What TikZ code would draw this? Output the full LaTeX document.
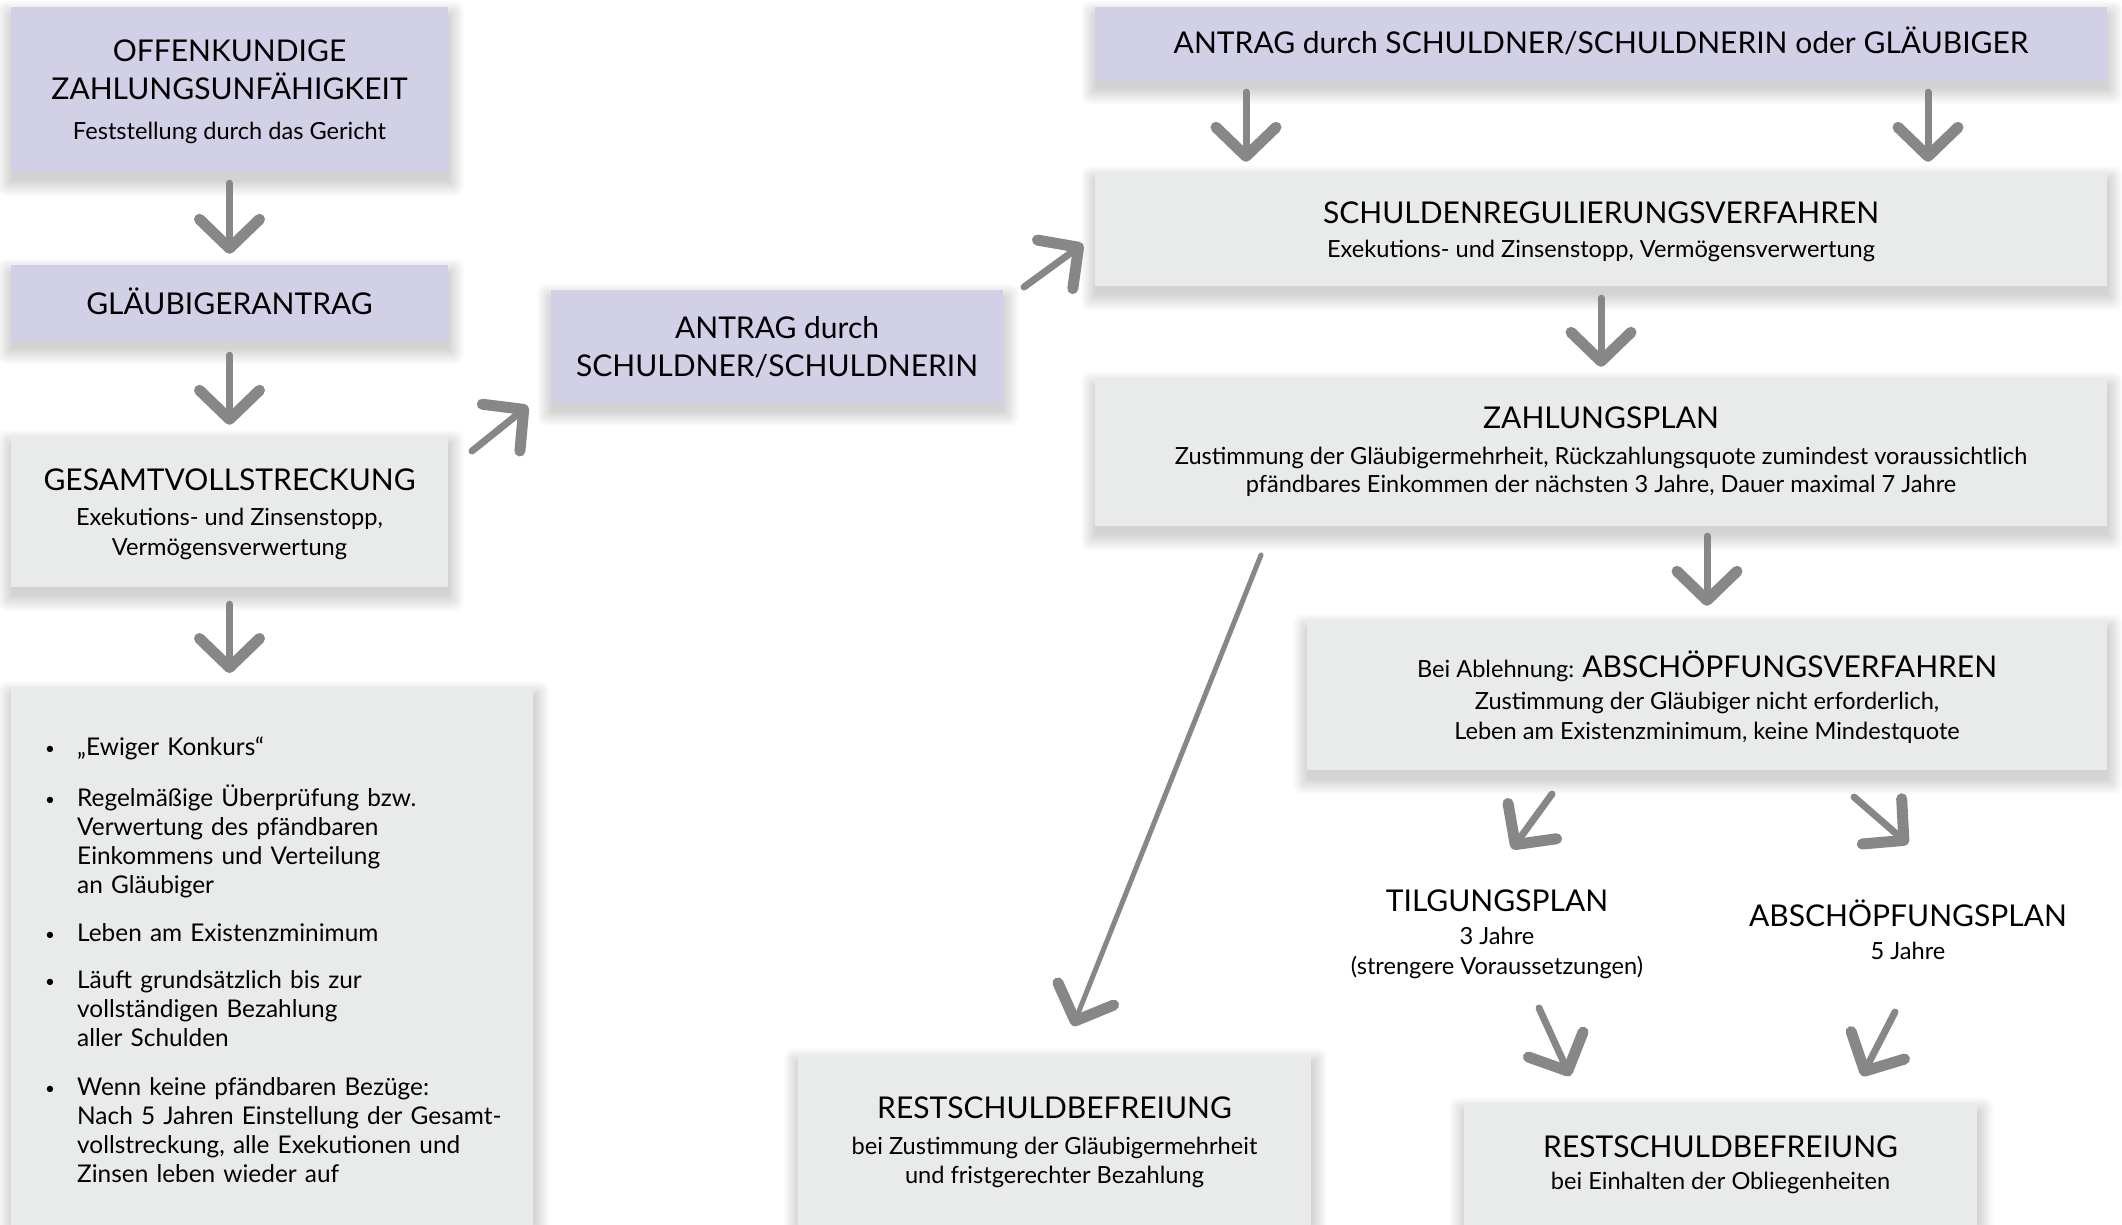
\documentclass[tikz,border=0pt]{standalone}
\usepackage{fontspec}
\setmainfont{Lato}
\usetikzlibrary{arrows.meta,calc}
\pgfdeclarelayer{bg}
\pgfsetlayers{bg,main}
\definecolor{lila}{HTML}{D2D0E6}
\definecolor{grau}{HTML}{E9EAEA}
\definecolor{pfeil}{HTML}{878787}
\newcommand{\hdf}{\fontsize{30}{38}\selectfont}
\newcommand{\sbf}{\fontsize{23.6}{29}\selectfont}
\newcommand{\toprl}[1]{\rule{0pt}{#1pt}}
\newcommand{\botrl}{\rule[-10pt]{0pt}{10pt}}
\newcommand{\bul}{\leavevmode\llap{\makebox[32pt][l]{\raisebox{1pt}{\fontsize{17}{17}\selectfont\textbullet}}}}
\begin{document}
\begin{tikzpicture}[x=1pt,y=-1pt,
  box/.style={inner sep=0pt, align=center, text=black, font=\sbf},
  lbox/.style={box, fill=lila},
  gbox/.style={box, fill=grau},
  shadowlayer/.style={fill=black, fill opacity=0.017},
  brush/.style={draw=pfeil, line width=7pt, line cap=round,
    -{Straight Barb[length=29pt,width=60pt,line width=11pt,round]}},
  plain/.style={align=center, inner sep=0pt, font=\sbf, anchor=north}]
\useasboundingbox (0,0) rectangle (2122,1224);

% left column
\node[lbox, minimum width=437pt, minimum height=165pt] (b1) at (229.5,89.5)
  {\toprl{31}\hdf OFFENKUNDIGE\\[9pt] \hdf ZAHLUNGSUNFÄHIGKEIT\\[11pt] \sbf Feststellung durch das Gericht\botrl};
\node[lbox, minimum width=437pt, minimum height=75pt] (b2) at (229.5,302.5)
  {\toprl{33}\hdf GLÄUBIGERANTRAG\botrl};
\node[gbox, minimum width=437pt, minimum height=151pt] (b3) at (229.5,511.5)
  {\toprl{32}\hdf GESAMTVOLLSTRECKUNG\\[6pt] \sbf Exekutions- und Zinsenstopp,\\[1pt] \sbf Vermögensverwertung\botrl};
\node[gbox, anchor=north west, minimum width=522pt, minimum height=560pt] (b4) at (11,687) {};
\node[inner sep=0pt, anchor=north west, text width=440pt, align=left,
  font=\fontsize{24.4}{29}\selectfont] (t4) at (77,725)
  {\bul\toprl{30}„Ewiger Konkurs“\\[22pt]
   \bul Regelmäßige Überprüfung bzw.\\
   Verwertung des pfändbaren\\
   Einkommens und Verteilung\\
   an Gläubiger\\[19pt]
   \bul Leben am Existenzminimum\\[18pt]
   \bul Läuft grundsätzlich bis zur\\
   vollständigen Bezahlung\\
   aller Schulden\\[20pt]
   \bul Wenn keine pfändbaren Bezüge:\\
   Nach 5 Jahren Einstellung der Gesamt-\\
   vollstreckung, alle Exekutionen und\\
   Zinsen leben wieder auf};

% middle
\node[lbox, minimum width=452pt, minimum height=112pt] (b5) at (777,346)
  {\toprl{32}\hdf ANTRAG durch\\[9pt] \hdf SCHULDNER/SCHULDNERIN\botrl};

% right column
\node[lbox, minimum width=1012pt, minimum height=73pt] (b6) at (1601,43.5)
  {\toprl{29}\hdf ANTRAG durch SCHULDNER/SCHULDNERIN oder GLÄUBIGER\botrl};
\node[gbox, minimum width=1012pt, minimum height=114pt] (b7) at (1601,229)
  {\toprl{32}\hdf SCHULDENREGULIERUNGSVERFAHREN\\[5pt] \sbf Exekutions- und Zinsenstopp, Vermögensverwertung\botrl};
\node[gbox, minimum width=1012pt, minimum height=148pt] (b8) at (1601,452)
  {\toprl{26}\hdf ZAHLUNGSPLAN\\[7pt] \sbf Zustimmung der Gläubigermehrheit, Rückzahlungsquote zumindest voraussichtlich\\[-1pt] \sbf pfändbares Einkommen der nächsten 3 Jahre, Dauer maximal 7 Jahre\botrl};
\node[gbox, minimum width=800pt, minimum height=150pt] (b9) at (1707,695)
  {\toprl{36}{\sbf Bei Ablehnung: }{\hdf ABSCHÖPFUNGSVERFAHREN}\\[3pt] \sbf Zustimmung der Gläubiger nicht erforderlich,\\[1pt] \sbf Leben am Existenzminimum, keine Mindestquote\botrl};
\node[plain] (tp) at (1497,881)
  {\toprl{30}\hdf TILGUNGSPLAN\\[4pt] \sbf 3 Jahre\\[1pt] \sbf (strengere Voraussetzungen)};
\node[plain] (ap) at (1908,896)
  {\toprl{30}\hdf ABSCHÖPFUNGSPLAN\\[4pt] \sbf 5 Jahre};
\node[gbox, anchor=north, minimum width=513pt, minimum height=178pt] (b10) at (1054.5,1054)
  {\toprl{25}\hdf RESTSCHULDBEFREIUNG\\[7pt] \sbf bei Zustimmung der Gläubigermehrheit\\ \sbf und fristgerechter Bezahlung\botrl};
\node[gbox, anchor=north, minimum width=513pt, minimum height=122pt] (b11) at (1720.5,1103)
  {\toprl{28}\hdf RESTSCHULDBEFREIUNG\\[3pt] \sbf bei Einhalten der Obliegenheiten\botrl};

% soft shadows and white page below the boxes
\begin{pgfonlayer}{bg}
  \fill[white] (0,0) rectangle (2122,1224);
  \foreach \n in {b1,b2,b3,b4,b5,b6,b7,b8,b9,b10,b11}{
    \foreach \k in {0,...,10}{
      \fill[shadowlayer, rounded corners=\k pt]
        ($(\n.north west)+(-\k*1.5+1,-\k*1.5+9)$) rectangle ($(\n.south east)+(\k*1.5+1,\k*1.5+9)$);
    }
  }
\end{pgfonlayer}

% connector end points
\coordinate (a4s) at (472,451); \coordinate (a4e) at (528,406);
\coordinate (a5s) at (1024,287); \coordinate (a5e) at (1083,244);
\coordinate (a10s) at (1261,555); \coordinate (a10e) at (1073,1026);
\coordinate (a11s) at (1552,794); \coordinate (a11e) at (1512,849);
\coordinate (a12s) at (1854,797); \coordinate (a12e) at (1908,844);
\coordinate (a13s) at (1539,1008); \coordinate (a13e) at (1570,1076);
\coordinate (a14s) at (1895,1012); \coordinate (a14e) at (1862,1076);

% connectors
\draw[brush, shorten <=11pt, shorten >=11pt] (b1.south) -- (b2.north);
\draw[brush, shorten <=15pt, shorten >=11pt] (b2.south) -- (b3.north);
\draw[brush, shorten <=17pt, shorten >=14pt] (b3.south) -- (b3.south |- b4.north);
\draw[brush] (a4s) -- (a4e);
\draw[brush] (a5s) -- (a5e);
\draw[brush, shorten <=12pt, shorten >=10pt] ([xshift=-355pt]b6.south) -- ([xshift=-355pt]b7.north);
\draw[brush, shorten <=12pt, shorten >=10pt] ([xshift=327pt]b6.south) -- ([xshift=327pt]b7.north);
\draw[brush, shorten <=12pt, shorten >=11pt] (b7.south) -- (b8.north);
\draw[brush, shorten <=10pt, shorten >=14pt] (b8.south -| b9.north) -- (b9.north);
\draw[brush, line width=5pt] (a10s) -- (a10e);
\draw[brush] (a11s) -- (a11e);
\draw[brush] (a12s) -- (a12e);
\draw[brush] (a13s) -- (a13e);
\draw[brush] (a14s) -- (a14e);
\end{tikzpicture}
\end{document}
